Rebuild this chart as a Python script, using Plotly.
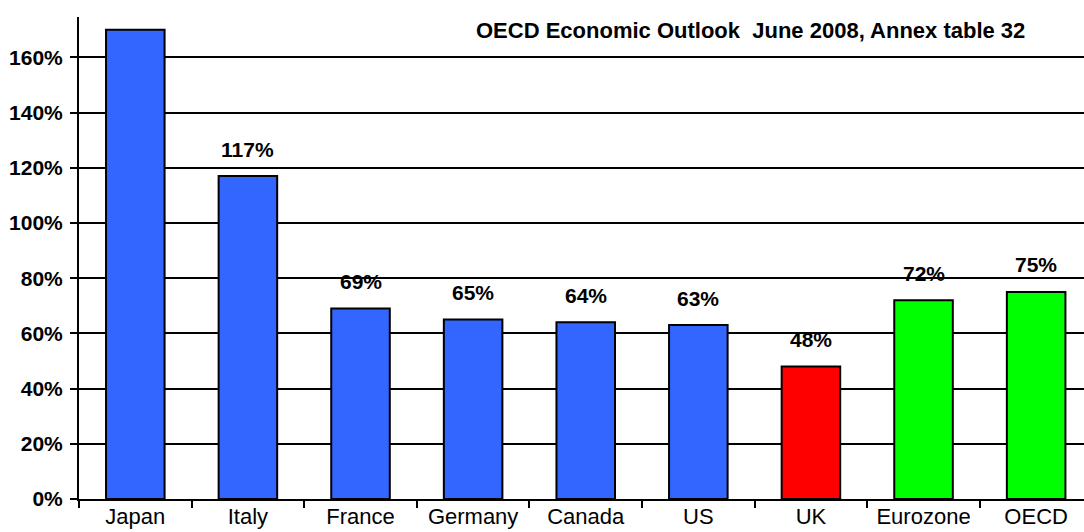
import plotly.graph_objects as go

# Gross government debt as a share of GDP, 2008
countries = ["Japan", "Italy", "France", "Germany", "Canada", "US", "UK", "Eurozone", "OECD"]
debt_pct = [170, 117, 69, 65, 64, 63, 48, 72, 75]
value_labels = ["", "117%", "69%", "65%", "64%", "63%", "48%", "72%", "75%"]
bar_colors = ["#3366FF"] * 6 + ["#FF0000"] + ["#00FF00"] * 2
source_note = "OECD Economic Outlook  June 2008, Annex table 32"

font_family = "Liberation Sans, Arial, sans-serif"

fig = go.Figure(
    go.Bar(
        x=countries,
        y=debt_pct,
        width=0.52,
        marker=dict(color=bar_colors, line=dict(color="black", width=2)),
        hoverinfo="skip",
    )
)

annotations = [
    dict(
        x=c, y=v, text=f"<b>{t}</b>", showarrow=False,
        xref="x", yref="y", yanchor="middle", yshift=27,
        font=dict(family=font_family, size=21, color="black"),
    )
    for c, v, t in zip(countries, debt_pct, value_labels) if t
]
annotations.append(
    dict(
        x=0.668, y=0.973, xref="paper", yref="paper",
        text=f"<b>{source_note}</b>", showarrow=False,
        xanchor="center", yanchor="middle",
        font=dict(family=font_family, size=22, color="black"),
    )
)

fig.update_layout(
    width=1084, height=532,
    margin=dict(l=79, r=0, t=17, b=33),
    paper_bgcolor="white", plot_bgcolor="white",
    showlegend=False,
    font=dict(family=font_family, color="black"),
    annotations=annotations,
    xaxis=dict(
        type="category",
        range=[-0.5, 8.425],
        tickson="boundaries",
        tickangle=0,
        automargin=False,
        ticks="outside", ticklen=7, tickwidth=2, tickcolor="black",
        ticklabelstandoff=-3,
        showline=True, linecolor="black", linewidth=2,
        showgrid=False, zeroline=False,
        tickfont=dict(family=font_family, size=22, color="black"),
    ),
    yaxis=dict(
        range=[0, 174.6],
        dtick=20, tick0=0,
        ticksuffix="%",
        automargin=False,
        ticks="outside", ticklen=7, tickwidth=2, tickcolor="black",
        ticklabelstandoff=3,
        showline=True, linecolor="black", linewidth=2,
        showgrid=True, gridcolor="black", gridwidth=2,
        zeroline=False,
        tickfont=dict(family=font_family, size=21, color="black", weight="bold"),
    ),
)

fig.write_html("out.html")
